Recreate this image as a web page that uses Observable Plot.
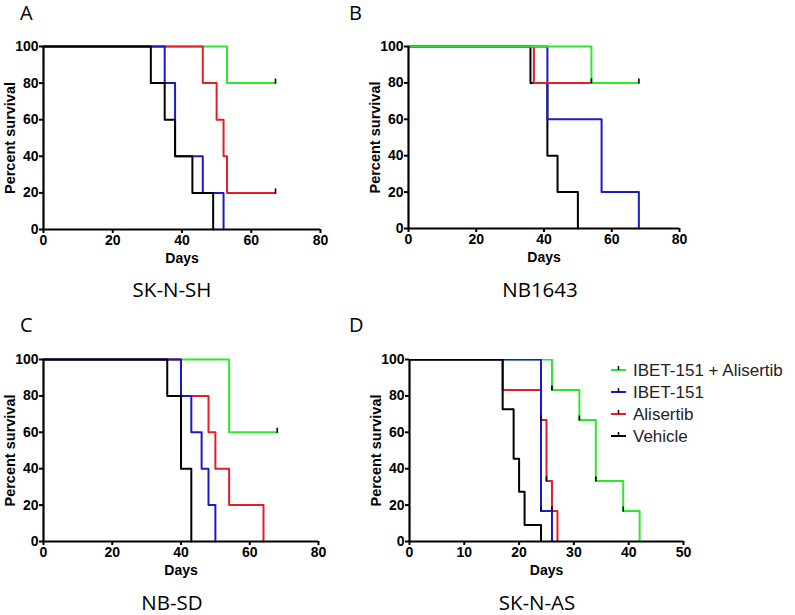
<!DOCTYPE html>
<html><head><meta charset="utf-8">
<script src="https://cdn.jsdelivr.net/npm/d3@7"></script>
<script src="https://cdn.jsdelivr.net/npm/@observablehq/plot@0.6"></script>
<style>
body{margin:0;background:#fff}
#root{position:relative;width:795px;height:615px;overflow:hidden;background:#fff}
#root svg{position:absolute}
</style></head><body><div id="root"></div>
<script>
// ---- data ----
const treatments = ["IBET-151 + Alisertib", "IBET-151", "Alisertib", "Vehicle"];
const treatmentColors = ["#2ee62e", "#1a1acc", "#e31e24", "#000000"];
const yTicks = [0, 20, 40, 60, 80, 100];

// Panel A: SK-N-SH  [day, percent survival]
const shCombo = [[0,100],[53,80],[67,80]];
const shComboCensor = [[67,80]];
const shIbet = [[0,100],[35,80],[38,40],[46,20],[52,0]];
const shAlis = [[0,100],[46,80],[50,60],[52,40],[53,20],[67,20]];
const shAlisCensor = [[67,20]];
const shVeh = [[0,100],[31,80],[35,60],[38,40],[43,20],[49,0]];
const shTicks = [0,20,40,60,80];

// Panel B: NB1643
const nbCombo = [[0,100],[54,80],[68,80]];
const nbComboCensor = [[68,80]];
const nbIbet = [[0,100],[41,60],[57,20],[68,0]];
const nbAlis = [[0,100],[37,80],[54,80]];
const nbAlisCensor = [[54,80]];
const nbVeh = [[0,100],[36,80],[41,40],[44,20],[50,0]];
const nbTicks = [0,20,40,60,80];

// Panel C: NB-SD
const sdCombo = [[0,100],[54,60],[68,60]];
const sdComboCensor = [[68,60]];
const sdIbet = [[0,100],[40,80],[43,60],[46,40],[48,20],[50,0]];
const sdAlis = [[0,100],[40,80],[48,60],[50,40],[54,20],[64,0]];
const sdVeh = [[0,100],[36,80],[40,40],[43,0]];
const sdTicks = [0,20,40,60,80];

// Panel D: SK-N-AS
const asCombo = [[0,100],[26,83.3],[31,66.7],[34,33.3],[39,16.7],[42,0]];
const asComboCensor = [[26,83.3],[31,66.7],[34,33.3],[39,16.7]];
const asIbet = [[0,100],[24,16.7],[26,0]];
const asIbetCensor = [[24,16.7]];
const asAlis = [[0,100],[17,83.3],[24,66.7],[25,33.3],[26,16.7],[27,0]];
const asAlisCensor = [[24,66.7],[25,33.3],[26,16.7]];
const asVeh = [[0,100],[17,72.7],[19,45.5],[20,27.3],[21,9.1],[24,0]];
const asTicks = [0,10,20,30,40,50];

// ---- layout ----
const root = document.getElementById("root");
const C = treatmentColors;
const axisFont = "'Liberation Sans', Arial, Helvetica, sans-serif";

function panel({series, xMax, xTicks, x0, x1, yTop, yBottom, clip}) {
  const mL = 50, mR = 25, mT = 10, mB = 50;
  const w = (x1 - x0) + mL + mR, h = (yBottom - yTop) + mT + mB;
  const marks = [];
  for (const s of series) {
    marks.push(Plot.line(s.pts, {x: d => d[0], y: d => d[1], curve: "step-after",
      stroke: s.color, strokeWidth: 2, clip}));
  }
  for (const s of series) if (s.censor) {
    marks.push(Plot.ruleX(s.censor, {x: d => d[0], y1: d => d[1], y2: d => d[1],
      insetTop: -4, insetBottom: -1, stroke: "#000", strokeWidth: 1.6}));
  }
  marks.push(Plot.ruleX([0], {stroke: "#000", strokeWidth: 2.2}));
  marks.push(Plot.ruleY([0], {stroke: "#000", strokeWidth: 2.2}));
  marks.push(Plot.axisX({ticks: xTicks, tickSize: 4, tickPadding: 2, strokeWidth: 2, label: null, tickFormat: d => d, fontSize: 14}));
  marks.push(Plot.axisY({ticks: yTicks, tickSize: 4, tickPadding: 1, strokeWidth: 2, label: null, tickFormat: d => d, fontSize: 14}));
  marks.push(Plot.text(["Days"], {text: d => d, frameAnchor: "bottom", lineAnchor: "top", dy: 24, fontSize: 14}));
  marks.push(Plot.text(["Percent survival"], {text: d => d, frameAnchor: "left", textAnchor: "middle", rotate: -90, dx: -33, fontSize: 14.5}));
  const svg = Plot.plot({
    width: w, height: h, marginLeft: mL, marginRight: mR, marginTop: mT, marginBottom: mB,
    x: {domain: [0, xMax]}, y: {domain: [0, 100]},
    style: {fontFamily: axisFont, fontSize: "14px", fontWeight: "bold", background: "none", overflow: "visible", color: "#000"},
    marks
  });
  svg.style.left = (x0 - mL) + "px";
  svg.style.top = (yTop - mT) + "px";
  root.append(svg);
}

// overlay for panel letters, cell-line names, legend
const overlay = d3.create("svg").attr("width", 795).attr("height", 615).style("left", "0px").style("top", "0px");
root.append(overlay.node());
const letters = [["A", 20, 20], ["B", 349, 20], ["C", 20, 332], ["D", 349, 332]];
const names = [["SK-N-SH", 172, 297], ["NB1643", 540, 297], ["NB-SD", 172, 610], ["SK-N-AS", 537, 610]];
overlay.selectAll("text.letter").data(letters).join("text").attr("class", "letter")
  .attr("x", d => d[1]).attr("y", d => d[2]).text(d => d[0])
  .attr("font-family", "'Open Sans', sans-serif").attr("font-size", 20);
overlay.selectAll("text.name").data(names).join("text").attr("class", "name")
  .attr("x", d => d[1]).attr("y", d => d[2]).attr("text-anchor", "middle").text(d => d[0])
  .attr("font-family", "'Open Sans', sans-serif").attr("font-size", 20.5);

panel({xMax: 80, xTicks: shTicks, x0: 43, x1: 320, yTop: 46, yBottom: 229, clip: false, series: [
  {pts: shCombo, color: C[0], censor: shComboCensor},
  {pts: shAlis, color: C[2], censor: shAlisCensor},
  {pts: shIbet, color: C[1]},
  {pts: shVeh, color: C[3]}]});
panel({xMax: 80, xTicks: nbTicks, x0: 408, x1: 679, yTop: 46, yBottom: 228, clip: false, series: [
  {pts: nbVeh, color: C[3]},
  {pts: nbIbet, color: C[1]},
  {pts: nbAlis, color: C[2], censor: nbAlisCensor},
  {pts: nbCombo, color: C[0], censor: nbComboCensor}]});
panel({xMax: 80, xTicks: sdTicks, x0: 43, x1: 318, yTop: 359, yBottom: 541, clip: false, series: [
  {pts: sdCombo, color: C[0], censor: sdComboCensor},
  {pts: sdAlis, color: C[2]},
  {pts: sdIbet, color: C[1]},
  {pts: sdVeh, color: C[3]}]});
panel({xMax: 50, xTicks: asTicks, x0: 409, x1: 683, yTop: 359, yBottom: 541, clip: true, series: [
  {pts: asCombo, color: C[0], censor: asComboCensor},
  {pts: asAlis, color: C[2], censor: asAlisCensor},
  {pts: asIbet, color: C[1], censor: asIbetCensor},
  {pts: asVeh, color: C[3]}]});

// legend (panel D)
const lg = overlay.append("g").attr("transform", "translate(611,0)");
const rows = lg.selectAll("g").data(treatments).join("g")
  .attr("transform", (d, i) => `translate(0,${376 + i * 22})`);
rows.append("line").attr("x1", 0).attr("x2", 15).attr("y1", -6).attr("y2", -6)
  .attr("stroke", (d, i) => C[i]).attr("stroke-width", 2);
rows.append("line").attr("x1", 7.5).attr("x2", 7.5).attr("y1", -10).attr("y2", -6)
  .attr("stroke", "#000").attr("stroke-width", 1.5);
rows.append("text").attr("x", 22).attr("y", 0).text(d => d)
  .attr("font-family", axisFont).attr("font-size", 17).attr("fill", "#222");
</script>
</body></html>
